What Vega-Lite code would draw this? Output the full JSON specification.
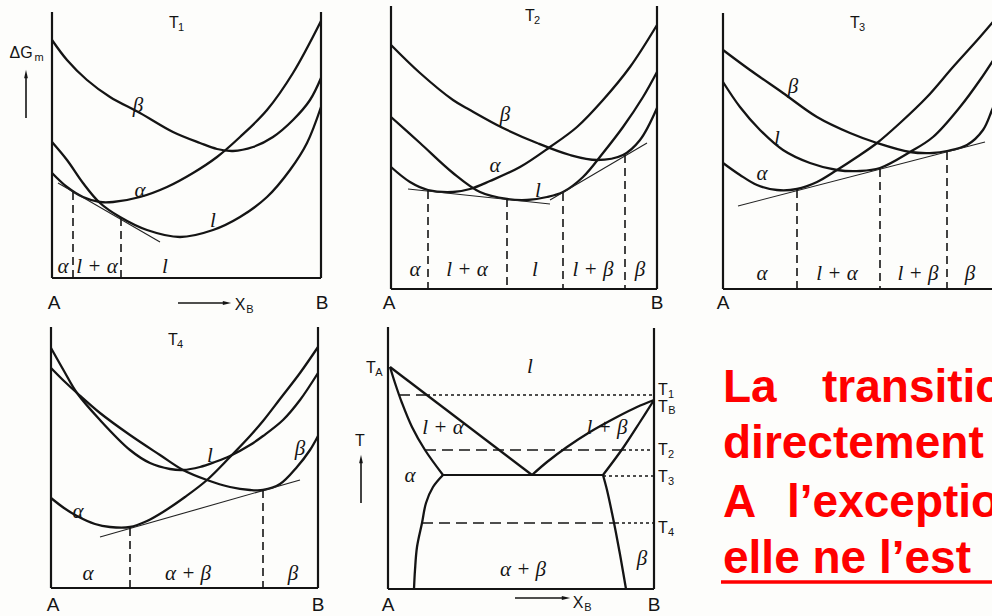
{
"$schema": "https://vega.github.io/schema/vega-lite/v6.json",
"width": 992, "height": 616,
"autosize": {"type": "fit", "contains": "padding"},
"padding": 0,
"background": "#fdfdfb",
"config": {"view": {"stroke": null}},
"datasets": {
"curves": [
{"c":"T1b","x":52,"y":40},{"c":"T1b","x":67,"y":60},{"c":"T1b","x":87,"y":80},{"c":"T1b","x":110,"y":97},{"c":"T1b","x":140,"y":113},{"c":"T1b","x":173,"y":132},{"c":"T1b","x":200,"y":143},{"c":"T1b","x":217,"y":149},{"c":"T1b","x":233,"y":151},{"c":"T1b","x":253,"y":147},{"c":"T1b","x":273,"y":137},{"c":"T1b","x":293,"y":120},{"c":"T1b","x":310,"y":100},{"c":"T1b","x":321,"y":78},
{"c":"T1a","x":52,"y":173},{"c":"T1a","x":67,"y":187},{"c":"T1a","x":83,"y":197},{"c":"T1a","x":100,"y":202},{"c":"T1a","x":113,"y":202},{"c":"T1a","x":140,"y":197},{"c":"T1a","x":167,"y":187},{"c":"T1a","x":193,"y":173},{"c":"T1a","x":217,"y":157},{"c":"T1a","x":240,"y":137},{"c":"T1a","x":267,"y":110},{"c":"T1a","x":293,"y":73},{"c":"T1a","x":321,"y":21},
{"c":"T1l","x":52,"y":142},{"c":"T1l","x":67,"y":160},{"c":"T1l","x":83,"y":183},{"c":"T1l","x":100,"y":203},{"c":"T1l","x":120,"y":217},{"c":"T1l","x":147,"y":230},{"c":"T1l","x":180,"y":237},{"c":"T1l","x":213,"y":230},{"c":"T1l","x":240,"y":217},{"c":"T1l","x":267,"y":197},{"c":"T1l","x":290,"y":170},{"c":"T1l","x":307,"y":143},{"c":"T1l","x":321,"y":107},
{"c":"T2b","x":391,"y":45},{"c":"T2b","x":420,"y":73},{"c":"T2b","x":453,"y":100},{"c":"T2b","x":470,"y":110},{"c":"T2b","x":503,"y":128},{"c":"T2b","x":537,"y":143},{"c":"T2b","x":570,"y":155},{"c":"T2b","x":597,"y":160},{"c":"T2b","x":623,"y":155},{"c":"T2b","x":640,"y":140},{"c":"T2b","x":657,"y":108},
{"c":"T2a","x":391,"y":167},{"c":"T2a","x":410,"y":182},{"c":"T2a","x":428,"y":190},{"c":"T2a","x":453,"y":192},{"c":"T2a","x":470,"y":189},{"c":"T2a","x":490,"y":181},{"c":"T2a","x":520,"y":167},{"c":"T2a","x":550,"y":147},{"c":"T2a","x":577,"y":127},{"c":"T2a","x":603,"y":100},{"c":"T2a","x":630,"y":67},{"c":"T2a","x":657,"y":25},
{"c":"T2l","x":391,"y":117},{"c":"T2l","x":420,"y":143},{"c":"T2l","x":453,"y":173},{"c":"T2l","x":480,"y":192},{"c":"T2l","x":507,"y":199},{"c":"T2l","x":527,"y":200},{"c":"T2l","x":547,"y":197},{"c":"T2l","x":563,"y":192},{"c":"T2l","x":583,"y":177},{"c":"T2l","x":603,"y":153},{"c":"T2l","x":623,"y":127},{"c":"T2l","x":643,"y":97},{"c":"T2l","x":657,"y":72},
{"c":"T3a","x":723,"y":163},{"c":"T3a","x":740,"y":175},{"c":"T3a","x":757,"y":185},{"c":"T3a","x":777,"y":190},{"c":"T3a","x":797,"y":189},{"c":"T3a","x":817,"y":182},{"c":"T3a","x":837,"y":170},{"c":"T3a","x":857,"y":157},{"c":"T3a","x":877,"y":143},{"c":"T3a","x":900,"y":123},{"c":"T3a","x":927,"y":97},{"c":"T3a","x":953,"y":67},{"c":"T3a","x":980,"y":37},{"c":"T3a","x":1003,"y":10},
{"c":"T3l","x":723,"y":82},{"c":"T3l","x":740,"y":107},{"c":"T3l","x":760,"y":130},{"c":"T3l","x":783,"y":150},{"c":"T3l","x":810,"y":163},{"c":"T3l","x":837,"y":170},{"c":"T3l","x":860,"y":171},{"c":"T3l","x":880,"y":168},{"c":"T3l","x":910,"y":152},{"c":"T3l","x":933,"y":137},{"c":"T3l","x":960,"y":107},{"c":"T3l","x":980,"y":80},{"c":"T3l","x":1003,"y":45},
{"c":"T3b","x":723,"y":50},{"c":"T3b","x":750,"y":70},{"c":"T3b","x":783,"y":93},{"c":"T3b","x":817,"y":117},{"c":"T3b","x":850,"y":133},{"c":"T3b","x":877,"y":143},{"c":"T3b","x":910,"y":152},{"c":"T3b","x":933,"y":153},{"c":"T3b","x":947,"y":151},{"c":"T3b","x":967,"y":145},{"c":"T3b","x":983,"y":130},{"c":"T3b","x":992,"y":110},{"c":"T3b","x":1003,"y":80},
{"c":"T4l","x":51,"y":348},{"c":"T4l","x":64,"y":371},{"c":"T4l","x":77,"y":393},{"c":"T4l","x":100,"y":420},{"c":"T4l","x":130,"y":450},{"c":"T4l","x":150,"y":463},{"c":"T4l","x":170,"y":469},{"c":"T4l","x":183,"y":470},{"c":"T4l","x":200,"y":467},{"c":"T4l","x":215,"y":462},{"c":"T4l","x":230,"y":456},{"c":"T4l","x":250,"y":445},{"c":"T4l","x":263,"y":436},{"c":"T4l","x":283,"y":420},{"c":"T4l","x":300,"y":400},{"c":"T4l","x":318,"y":373},
{"c":"T4b","x":51,"y":368},{"c":"T4b","x":64,"y":381},{"c":"T4b","x":77,"y":393},{"c":"T4b","x":100,"y":413},{"c":"T4b","x":130,"y":435},{"c":"T4b","x":160,"y":455},{"c":"T4b","x":183,"y":470},{"c":"T4b","x":207,"y":480},{"c":"T4b","x":230,"y":487},{"c":"T4b","x":250,"y":490},{"c":"T4b","x":263,"y":490},{"c":"T4b","x":280,"y":484},{"c":"T4b","x":297,"y":467},{"c":"T4b","x":310,"y":450},{"c":"T4b","x":318,"y":436},
{"c":"T4a","x":51,"y":498},{"c":"T4a","x":64,"y":508},{"c":"T4a","x":77,"y":516},{"c":"T4a","x":95,"y":524},{"c":"T4a","x":110,"y":527},{"c":"T4a","x":130,"y":527},{"c":"T4a","x":147,"y":521},{"c":"T4a","x":163,"y":512},{"c":"T4a","x":185,"y":497},{"c":"T4a","x":207,"y":480},{"c":"T4a","x":230,"y":457},{"c":"T4a","x":250,"y":436},{"c":"T4a","x":263,"y":421},{"c":"T4a","x":280,"y":399},{"c":"T4a","x":300,"y":373},{"c":"T4a","x":318,"y":347},
{"c":"PliqL","x":390,"y":367},{"c":"PliqL","x":532,"y":475},
{"c":"PsolL","x":390,"y":367},{"c":"PsolL","x":395,"y":383},{"c":"PsolL","x":402,"y":403},{"c":"PsolL","x":412,"y":427},{"c":"PsolL","x":425,"y":450},{"c":"PsolL","x":443,"y":475},
{"c":"PliqR","x":532,"y":475},{"c":"PliqR","x":547,"y":462},{"c":"PliqR","x":567,"y":447},{"c":"PliqR","x":590,"y":432},{"c":"PliqR","x":617,"y":417},{"c":"PliqR","x":637,"y":407},{"c":"PliqR","x":654,"y":400},
{"c":"PsolR","x":603,"y":475},{"c":"PsolR","x":623,"y":448},{"c":"PsolR","x":640,"y":422},{"c":"PsolR","x":654,"y":400},
{"c":"PsolvL","x":443,"y":475},{"c":"PsolvL","x":433,"y":487},{"c":"PsolvL","x":426,"y":503},{"c":"PsolvL","x":422,"y":523},{"c":"PsolvL","x":417,"y":547},{"c":"PsolvL","x":415,"y":570},{"c":"PsolvL","x":414,"y":589},
{"c":"PsolvR","x":603,"y":475},{"c":"PsolvR","x":607,"y":490},{"c":"PsolvR","x":612,"y":513},{"c":"PsolvR","x":616,"y":533},{"c":"PsolvR","x":621,"y":560},{"c":"PsolvR","x":626,"y":589}
],
"segs": [
{"s":"axis","x":52,"y":12,"x2":52,"y2":278},{"s":"axis","x":321,"y":12,"x2":321,"y2":278},{"s":"axis","x":52,"y":278,"x2":321,"y2":278},
{"s":"axis","x":391,"y":6,"x2":391,"y2":289},{"s":"axis","x":657,"y":6,"x2":657,"y2":289},{"s":"axis","x":391,"y":289,"x2":657,"y2":289},
{"s":"axis","x":723,"y":13,"x2":723,"y2":289},{"s":"axis","x":723,"y":289,"x2":995,"y2":289},
{"s":"axis","x":51,"y":327,"x2":51,"y2":588},{"s":"axis","x":318,"y":327,"x2":318,"y2":588},{"s":"axis","x":51,"y":588,"x2":318,"y2":588},
{"s":"axis","x":388,"y":327,"x2":388,"y2":589},{"s":"axis","x":654,"y":328,"x2":654,"y2":589},{"s":"axis","x":388,"y":589,"x2":654,"y2":589},
{"s":"axis","x":443,"y":475,"x2":603,"y2":475},
{"s":"arrow","x":26,"y":118,"x2":26,"y2":76},{"s":"arrow","x":178,"y":303,"x2":224,"y2":303},{"s":"arrow","x":361,"y":503,"x2":361,"y2":461},{"s":"arrow","x":515,"y":598,"x2":563,"y2":598},
{"s":"tan","x":58,"y":183,"x2":160,"y2":242},
{"s":"tan","x":408,"y":189,"x2":550,"y2":204},{"s":"tan","x":550,"y":200,"x2":647,"y2":143},
{"s":"tan","x":738,"y":206,"x2":985,"y2":142},
{"s":"tan","x":100,"y":537,"x2":300,"y2":480},
{"s":"dash","x":73,"y":192,"x2":73,"y2":278},{"s":"dash","x":121,"y":218,"x2":121,"y2":278},
{"s":"dash","x":428,"y":191,"x2":428,"y2":289},{"s":"dash","x":507,"y":199,"x2":507,"y2":289},{"s":"dash","x":563,"y":193,"x2":563,"y2":289},{"s":"dash","x":625,"y":155,"x2":625,"y2":289},
{"s":"dash","x":797,"y":190,"x2":797,"y2":289},{"s":"dash","x":880,"y":169,"x2":880,"y2":289},{"s":"dash","x":947,"y":152,"x2":947,"y2":289},
{"s":"dash","x":130,"y":528,"x2":130,"y2":588},{"s":"dash","x":263,"y":490,"x2":263,"y2":588},
{"s":"ldash","x":399,"y":395,"x2":427,"y2":395},{"s":"ldash","x":425,"y":450,"x2":623,"y2":450},{"s":"ldash","x":422,"y":523,"x2":616,"y2":523},
{"s":"dot","x":427,"y":395,"x2":654,"y2":395},{"s":"dot","x":623,"y":450,"x2":654,"y2":450},{"s":"dot","x":603,"y":476,"x2":654,"y2":476},{"s":"dot","x":616,"y":523,"x2":654,"y2":523},
{"s":"under","x":721,"y":582,"x2":992,"y2":582}
],
"heads": [
{"d":"up","x":26,"y":74},{"d":"up","x":361,"y":459},{"d":"right","x":227,"y":303},{"d":"right","x":566,"y":598}
],
"texts": [
{"k":"ab","t":"A","x":54,"y":309},{"k":"ab","t":"B","x":322,"y":309},
{"k":"ab","t":"A","x":389,"y":309},{"k":"ab","t":"B","x":657,"y":309},
{"k":"ab","t":"A","x":723,"y":309},{"k":"ab","t":"B","x":998,"y":309},
{"k":"ab","t":"A","x":53,"y":611},{"k":"ab","t":"B","x":318,"y":611},
{"k":"ab","t":"A","x":388,"y":611},{"k":"ab","t":"B","x":654,"y":611},
{"k":"t","t":"T","x":174,"y":28},{"k":"sub","t":"1","x":181,"y":31},
{"k":"t","t":"T","x":530,"y":21},{"k":"sub","t":"2","x":537,"y":24},
{"k":"t","t":"T","x":855,"y":28},{"k":"sub","t":"3","x":862,"y":31},
{"k":"t","t":"T","x":173,"y":345},{"k":"sub","t":"4","x":180,"y":348},
{"k":"t","t":"ΔG","x":21,"y":58},{"k":"sub","t":"m","x":39,"y":61},
{"k":"t","t":"X","x":240,"y":310},{"k":"sub","t":"B","x":250,"y":313},
{"k":"t","t":"X","x":578,"y":608},{"k":"sub","t":"B","x":588,"y":611},
{"k":"t","t":"T","x":360,"y":446},
{"k":"t","t":"T","x":371,"y":373},{"k":"sub","t":"A","x":379,"y":376},
{"k":"t","t":"T","x":663,"y":395},{"k":"sub","t":"1","x":671,"y":398},
{"k":"t","t":"T","x":663,"y":412},{"k":"sub","t":"B","x":672,"y":414},
{"k":"t","t":"T","x":663,"y":455},{"k":"sub","t":"2","x":671,"y":458},
{"k":"t","t":"T","x":663,"y":482},{"k":"sub","t":"3","x":671,"y":485},
{"k":"t","t":"T","x":663,"y":533},{"k":"sub","t":"4","x":671,"y":536},
{"k":"g","t":"α","x":63,"y":273},{"k":"g","t":"l + α","x":97,"y":273},{"k":"g","t":"l","x":165,"y":273},
{"k":"g","t":"β","x":138,"y":112},{"k":"g","t":"α","x":140,"y":197},{"k":"g","t":"l","x":213,"y":227},
{"k":"g","t":"α","x":415,"y":276},{"k":"g","t":"l + α","x":467,"y":276},{"k":"g","t":"l","x":535,"y":276},{"k":"g","t":"l + β","x":593,"y":276},{"k":"g","t":"β","x":640,"y":276},
{"k":"g","t":"β","x":505,"y":121},{"k":"g","t":"α","x":495,"y":172},{"k":"g","t":"l","x":538,"y":197},
{"k":"g","t":"α","x":762,"y":280},{"k":"g","t":"l + α","x":837,"y":280},{"k":"g","t":"l + β","x":918,"y":280},{"k":"g","t":"β","x":970,"y":280},
{"k":"g","t":"β","x":793,"y":93},{"k":"g","t":"l","x":777,"y":145},{"k":"g","t":"α","x":762,"y":180},
{"k":"g","t":"α","x":88,"y":580},{"k":"g","t":"α + β","x":188,"y":580},{"k":"g","t":"β","x":293,"y":580},
{"k":"g","t":"α","x":78,"y":518},{"k":"g","t":"l","x":210,"y":462},{"k":"g","t":"β","x":300,"y":455},
{"k":"g","t":"l","x":530,"y":373},{"k":"g","t":"l + α","x":443,"y":434},{"k":"g","t":"l + β","x":607,"y":434},{"k":"g","t":"α","x":410,"y":482},{"k":"g","t":"β","x":642,"y":565},{"k":"g","t":"α + β","x":523,"y":576},
{"k":"red","t":"La","x":723,"y":402},{"k":"red","t":"transition","x":822,"y":402},
{"k":"red","t":"directement","x":723,"y":458},
{"k":"red","t":"A","x":723,"y":517},{"k":"red","t":"l’exception","x":787,"y":517},
{"k":"red","t":"elle ne l’est","x":723,"y":573}
]
},
"encoding": {
"x": {"field": "x", "type": "quantitative", "scale": {"domain": [0, 992], "nice": false, "zero": false}, "axis": null},
"y": {"field": "y", "type": "quantitative", "scale": {"domain": [0, 616], "reverse": true, "nice": false, "zero": false}, "axis": null}
},
"layer": [
{"data": {"name": "curves"}, "mark": {"type": "line", "interpolate": "catmull-rom", "color": "#141414", "strokeWidth": 2.3, "clip": true}, "encoding": {"detail": {"field": "c", "type": "nominal"}}},
{"data": {"name": "segs"}, "transform": [{"filter": "datum.s === 'axis'"}], "mark": {"type": "rule", "color": "#141414", "strokeWidth": 2.2, "clip": true}, "encoding": {"x2": {"field": "x2"}, "y2": {"field": "y2"}}},
{"data": {"name": "segs"}, "transform": [{"filter": "datum.s === 'arrow'"}], "mark": {"type": "rule", "color": "#141414", "strokeWidth": 1.6, "clip": true}, "encoding": {"x2": {"field": "x2"}, "y2": {"field": "y2"}}},
{"data": {"name": "segs"}, "transform": [{"filter": "datum.s === 'tan'"}], "mark": {"type": "rule", "color": "#222222", "strokeWidth": 1.1, "clip": true}, "encoding": {"x2": {"field": "x2"}, "y2": {"field": "y2"}}},
{"data": {"name": "segs"}, "transform": [{"filter": "datum.s === 'dash'"}], "mark": {"type": "rule", "color": "#141414", "strokeWidth": 1.6, "strokeDash": [8, 5], "clip": true}, "encoding": {"x2": {"field": "x2"}, "y2": {"field": "y2"}}},
{"data": {"name": "segs"}, "transform": [{"filter": "datum.s === 'ldash'"}], "mark": {"type": "rule", "color": "#141414", "strokeWidth": 1.7, "strokeDash": [11, 6], "clip": true}, "encoding": {"x2": {"field": "x2"}, "y2": {"field": "y2"}}},
{"data": {"name": "segs"}, "transform": [{"filter": "datum.s === 'dot'"}], "mark": {"type": "rule", "color": "#141414", "strokeWidth": 1.3, "strokeDash": [3, 3], "clip": true}, "encoding": {"x2": {"field": "x2"}, "y2": {"field": "y2"}}},
{"data": {"name": "segs"}, "transform": [{"filter": "datum.s === 'under'"}], "mark": {"type": "rule", "color": "#ff0000", "strokeWidth": 3.5, "clip": true}, "encoding": {"x2": {"field": "x2"}, "y2": {"field": "y2"}}},
{"data": {"name": "heads"}, "transform": [{"filter": "datum.d === 'up'"}], "mark": {"type": "point", "shape": "M-0.45,1L0,-1L0.45,1Z", "filled": true, "color": "#141414", "size": 70, "opacity": 1}},
{"data": {"name": "heads"}, "transform": [{"filter": "datum.d === 'right'"}], "mark": {"type": "point", "shape": "M-1,-0.45L1,0L-1,0.45Z", "filled": true, "color": "#141414", "size": 70, "opacity": 1}},
{"data": {"name": "texts"}, "transform": [{"filter": "datum.k === 'ab'"}], "mark": {"type": "text", "font": "Liberation Sans", "fontSize": 19, "align": "center", "baseline": "alphabetic", "color": "#141414", "clip": true}, "encoding": {"text": {"field": "t"}}},
{"data": {"name": "texts"}, "transform": [{"filter": "datum.k === 't'"}], "mark": {"type": "text", "font": "Liberation Sans", "fontSize": 16, "align": "center", "baseline": "alphabetic", "color": "#141414", "clip": true}, "encoding": {"text": {"field": "t"}}},
{"data": {"name": "texts"}, "transform": [{"filter": "datum.k === 'sub'"}], "mark": {"type": "text", "font": "Liberation Sans", "fontSize": 11, "align": "center", "baseline": "alphabetic", "color": "#141414", "clip": true}, "encoding": {"text": {"field": "t"}}},
{"data": {"name": "texts"}, "transform": [{"filter": "datum.k === 'g'"}], "mark": {"type": "text", "font": "Liberation Serif", "fontStyle": "italic", "fontSize": 21, "align": "center", "baseline": "alphabetic", "color": "#141414", "clip": true}, "encoding": {"text": {"field": "t"}}},
{"data": {"name": "texts"}, "transform": [{"filter": "datum.k === 'red'"}], "mark": {"type": "text", "font": "Liberation Sans", "fontWeight": "bold", "fontSize": 46, "align": "left", "baseline": "alphabetic", "color": "#ff0000", "clip": true}, "encoding": {"text": {"field": "t"}}}
]
}
